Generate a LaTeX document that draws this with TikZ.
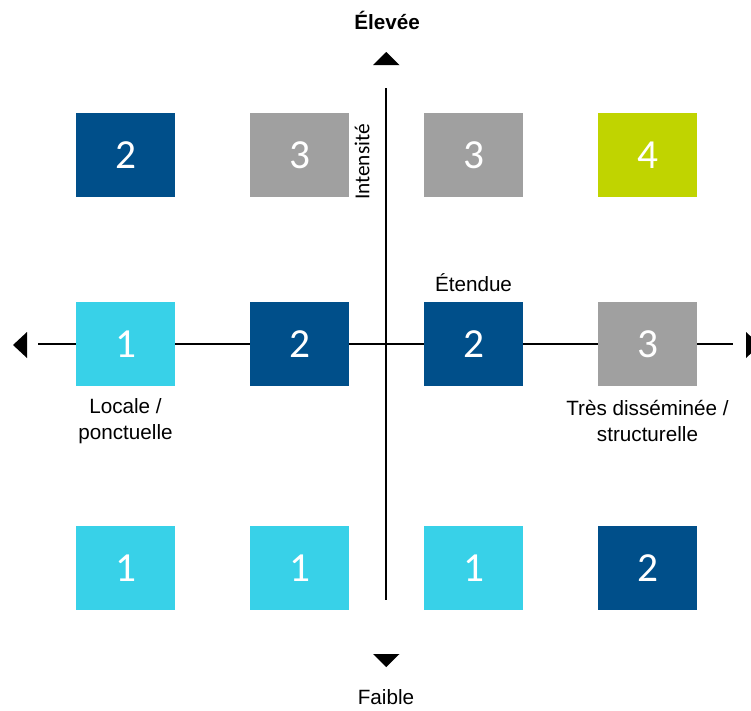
\documentclass[tikz,border=0pt]{standalone}
\usepackage{fontspec}
\setmainfont{Liberation Sans}
\newfontfamily\numfont{Carlito}
\definecolor{dblue}{RGB}{0,79,138}
\definecolor{lcyan}{RGB}{56,209,232}
\definecolor{mgrey}{RGB}{160,160,160}
\definecolor{lgreen}{RGB}{192,212,0}
\begin{document}
\begin{tikzpicture}[x=0.75pt,y=-0.75pt,
  cell/.style={minimum width=74.25pt,minimum height=63pt,inner sep=0pt,text=white,
    font=\numfont\fontsize{31}{31}\selectfont},
  lbl/.style={font=\fontsize{15.5}{19}\selectfont,align=center,inner sep=0pt},
  axis/.style={draw=black,line width=0.8pt},
  tri/.style={fill=black}]
\useasboundingbox (0,0) rectangle (751,711);
% axes
\coordinate (vt) at (386,88);
\coordinate (vb) at (386,600);
\coordinate (hl) at (38,344);
\coordinate (hr) at (733,344);
\draw[axis] (vt) -- (vb);
\draw[axis] (hl) -- (hr);
% arrowheads
\fill[tri] (373,65) -- (399.5,65) -- (386.25,52) -- cycle;
\fill[tri] (373,654) -- (399.5,654) -- (386.25,667) -- cycle;
\fill[tri] (27,332) -- (27,358) -- (13,345) -- cycle;
\fill[tri] (746,332) -- (746,358) -- (760,345) -- cycle;
% boxes
\node[cell,fill=dblue]  (a1) at (125.5,155) {2};
\node[cell,fill=mgrey]  (b1) at (299.5,155) {3};
\node[cell,fill=mgrey]  (c1) at (473.5,155) {3};
\node[cell,fill=lgreen] (d1) at (647.5,155) {4};
\node[cell,fill=lcyan]  (a2) at (125.5,344) {1};
\node[cell,fill=dblue]  (b2) at (299.5,344) {2};
\node[cell,fill=dblue]  (c2) at (473.5,344) {2};
\node[cell,fill=mgrey]  (d2) at (647.5,344) {3};
\node[cell,fill=lcyan]  (a3) at (125.5,568) {1};
\node[cell,fill=lcyan]  (b3) at (299.5,568) {1};
\node[cell,fill=lcyan]  (c3) at (473.5,568) {1};
\node[cell,fill=dblue]  (d3) at (647.5,568) {2};
% labels
\node[lbl,font=\bfseries\fontsize{15.5}{19}\selectfont] (elev) at (387,20) {Élevée};
\node[lbl] (faib) at (386,697) {Faible};
\node[lbl,rotate=90,font=\numfont\fontsize{16}{18}\selectfont] (inten) at (362,162) {Intensité};
\node[lbl] (eten) at (473.5,283) {Étendue};
\node[lbl] (loc) at (125.5,421) {Locale /\\ponctuelle};
\node[lbl] (tres) at (647.5,421) {Très disséminée /\\structurelle};
\end{tikzpicture}
\end{document}
